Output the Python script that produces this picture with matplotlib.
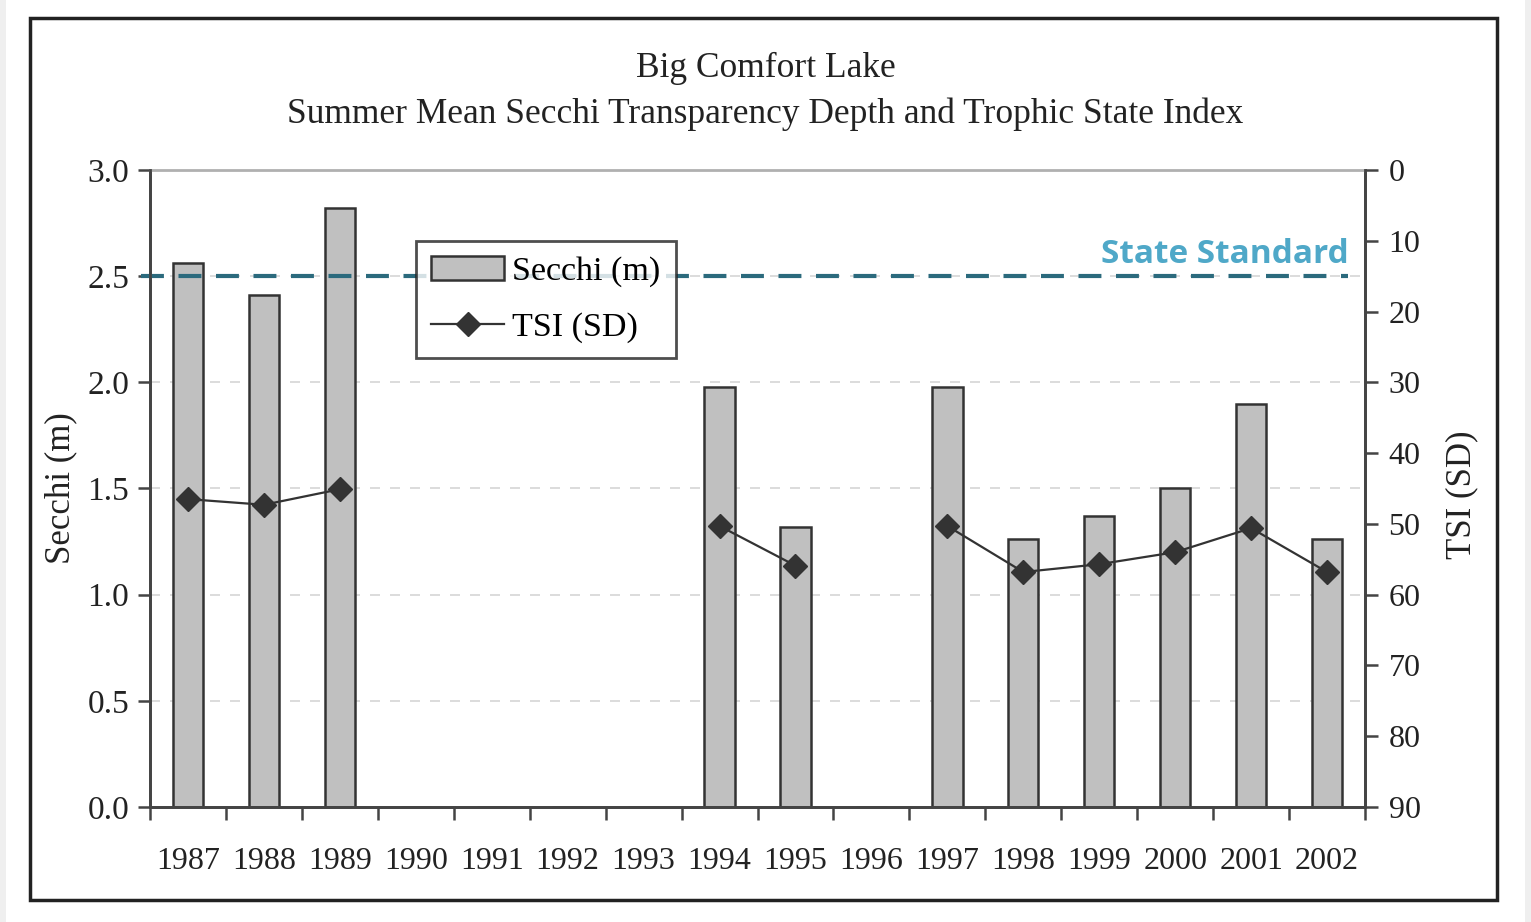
import matplotlib.pyplot as plt
import matplotlib.patches as mpatches
import numpy as np

years = list(range(1987, 2003))
# summer mean secchi depth (m), None = no data
secchi = [2.56, 2.41, 2.82, None, None, None, None, 1.98, 1.32, None,
          1.98, 1.26, 1.37, 1.50, 1.90, 1.26]
# TSI (SD), None = no data
tsi = [46.5, 47.3, 45.1, None, None, None, None, 50.3, 55.9, None,
       50.3, 56.8, 55.7, 54.0, 50.6, 56.8]
state_standard = 2.5

plt.rcParams['font.family'] = ['Liberation Serif', 'DejaVu Serif']

fig = plt.figure(figsize=(15.31, 9.22), dpi=100)
fig.patch.set_facecolor('white')

# outer frame + grey page edges
fig.add_artist(mpatches.Rectangle((0, 0), 6/1531, 1, transform=fig.transFigure,
                                  facecolor='#efefef', edgecolor='none'))
fig.add_artist(mpatches.Rectangle((1525/1531, 0), 6/1531, 1, transform=fig.transFigure,
                                  facecolor='#efefef', edgecolor='none'))
fig.add_artist(mpatches.Rectangle((30/1531, 1 - 900/922), 1467/1531, 882/922,
                                  transform=fig.transFigure, fill=False,
                                  edgecolor='#222222', linewidth=2.5))

ax = fig.add_axes([150/1531, 1 - 807/922, 1215/1531, 637/922])
x = np.arange(len(years))
sec = np.array([np.nan if v is None else v for v in secchi])
ts = np.array([np.nan if v is None else v for v in tsi])

for yv in [0.5, 1.0, 1.5, 2.0, 2.5]:
    ax.axhline(yv, color='#d6d6d6', linestyle=(0, (6, 6)), linewidth=1.2, zorder=0)

ax.bar(x, np.nan_to_num(sec), width=0.40, color='#c0c0c0', edgecolor='#333333',
       linewidth=1.8, zorder=2, label='Secchi (m)')

ax.set_xlim(-0.5, len(years) - 0.5)
ax.set_ylim(0, 3.0)
ax.set_yticks(np.arange(0, 3.01, 0.5))
ax.set_yticklabels([f'{v:.1f}' for v in np.arange(0, 3.01, 0.5)])
ax.set_xticks(x)
ax.set_xticklabels([str(y) for y in years])
ax.set_xticks(np.arange(-0.5, len(years), 1), minor=True)
ax.tick_params(axis='x', which='major', length=0, pad=29, labelsize=23, colors='#222222')
ax.tick_params(axis='x', which='minor', length=9, width=1.8, direction='out', color='#444444')
ax.tick_params(axis='y', length=9, width=1.8, direction='out', labelsize=24, color='#444444',
               labelcolor='#222222', pad=6)

for s in ['left', 'bottom', 'right']:
    ax.spines[s].set_color('#444444')
    ax.spines[s].set_linewidth(2)
ax.spines['top'].set_color('#b0b0b0')
ax.spines['top'].set_linewidth(2)
ax.set_ylabel('Secchi (m)', fontsize=25, color='#222222', va='center')
ax.yaxis.set_label_coords((61 - 150) / 1215, 0.5)

ax2 = ax.twinx()
ax2.plot(x, ts, color='#333333', linewidth=1.6, marker='D', markersize=12.5,
         markerfacecolor='#333333', markeredgecolor='#333333', zorder=3, label='TSI (SD)')
ax2.set_ylim(90, 0)
ax2.set_yticks(np.arange(0, 91, 10))
ax2.tick_params(axis='y', length=9, width=1.8, direction='out', labelsize=23, color='#444444',
                labelcolor='#222222', pad=8)
for s in ['left', 'bottom', 'right']:
    ax2.spines[s].set_color('#444444')
    ax2.spines[s].set_linewidth(2)
ax2.spines['top'].set_visible(False)
ax2.set_ylabel('TSI (SD)', fontsize=25, color='#222222', va='center')
ax2.yaxis.set_label_coords((1462 - 150) / 1215, 0.49)

# state standard line
ax.plot([-0.62, 15.28], [state_standard, state_standard], color='#2b6a7d',
        linestyle=(0, (5.5, 3.5)), linewidth=3, zorder=4, clip_on=False)
ax.text(15.28, state_standard + 0.062, 'State Standard', ha='right', va='baseline',
        fontsize=24, fontweight='bold', color='#4fa8c8', family=['Open Sans', 'DejaVu Sans'],
        zorder=5)

h1, l1 = ax.get_legend_handles_labels()
h2, l2 = ax2.get_legend_handles_labels()
leg = ax2.legend(h1 + h2, l1 + l2, loc='upper left',
                 bbox_to_anchor=(416/1531, 1 - 241/922), bbox_transform=fig.transFigure,
                 fontsize=24.5, frameon=True, fancybox=False, edgecolor='#222222',
                 handlelength=2.15, handleheight=0.7, borderpad=0.45, labelspacing=0.72,
                 handletextpad=0.22, borderaxespad=0)
leg.get_frame().set_linewidth(2)
leg.set_zorder(10)

fig.text(0.5, 1 - 68/922, 'Big Comfort Lake', ha='center', va='center',
         fontsize=25.5, color='#222222')
fig.text(0.5, 1 - 114/922, 'Summer Mean Secchi Transparency Depth and Trophic State Index',
         ha='center', va='center', fontsize=25.5, color='#222222')

fig.savefig('out.png', dpi=100)
